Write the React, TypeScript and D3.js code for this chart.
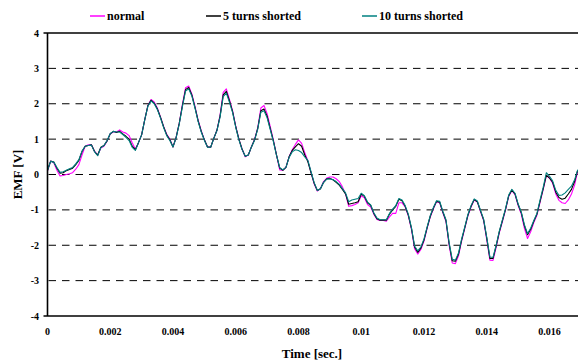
import React from "react";
import * as d3 from "d3";

const width = 578;
const height = 362;
const margin = { top: 33, left: 47.5, bottom: 316 };

// sample step of the recorded EMF traces (seconds)
const tStep = 0.0001;

const xTicks = [0, 0.002, 0.004, 0.006, 0.008, 0.01, 0.012, 0.014, 0.016];
const yTicks = [4, 3, 2, 1, 0, -1, -2, -3, -4];
const gridValues = [3, 2, 1, 0, -1, -2, -3];

const seriesNames = ["normal", "5 turns shorted", "10 turns shorted"];
const seriesColors = ["#ff00ff", "#000000", "#008080"];

const shorted5 = [
  0.12, 0.38, 0.35, 0.18, 0.04, 0.05, 0.11, 0.14, 0.18, 0.28,
  0.4, 0.65, 0.8, 0.82, 0.84, 0.65, 0.55, 0.77, 0.82, 0.95,
  1.15, 1.22, 1.19, 1.22, 1.15, 1.08, 1.0, 0.8, 0.7, 0.9,
  1.12, 1.55, 1.95, 2.1, 2.02, 1.86, 1.62, 1.35, 1.12, 0.98,
  0.78, 1.05, 1.45, 1.95, 2.4, 2.46, 2.25, 1.9, 1.52, 1.22,
  0.98, 0.78, 0.77, 1.02, 1.25, 1.65, 2.25, 2.35, 2.08, 1.78,
  1.35, 1.0, 0.72, 0.52, 0.55, 0.78, 0.98, 1.3, 1.8, 1.85,
  1.65, 1.3, 0.95, 0.55, 0.18, 0.12, 0.2, 0.5, 0.68, 0.78,
  0.87, 0.8, 0.55, 0.36, 0.05, -0.25, -0.45, -0.4, -0.22, -0.12,
  -0.11, -0.15, -0.22, -0.3, -0.42, -0.55, -0.84, -0.82, -0.8, -0.77,
  -0.55, -0.62, -0.8, -0.87, -1.1, -1.25, -1.29, -1.29, -1.29, -1.12,
  -1.0, -0.9, -0.7, -0.74, -0.9, -1.15, -1.52, -2.05, -2.2, -2.08,
  -1.85, -1.5, -1.18, -0.95, -0.76, -0.78, -1.06, -1.3, -1.95, -2.44,
  -2.45, -2.25, -1.85, -1.5, -1.15, -0.9, -0.71, -0.77, -1.03, -1.28,
  -1.8, -2.37, -2.37, -2.02, -1.62, -1.3, -0.98, -0.6, -0.44, -0.55,
  -0.85, -1.08, -1.45, -1.7, -1.55, -1.32, -1.12, -0.75, -0.4, -0.02,
  -0.1, -0.22, -0.5, -0.65, -0.7, -0.67, -0.55, -0.42, -0.2, 0.12,
];

const normal = [
  0.1, 0.38, 0.33, 0.12, -0.04, -0.03, 0.0, 0.02, 0.05, 0.15,
  0.28, 0.55, 0.8, 0.84, 0.84, 0.66, 0.55, 0.75, 0.8, 0.95,
  1.15, 1.2, 1.2, 1.26, 1.2, 1.17, 1.1, 0.9, 0.72, 0.9,
  1.12, 1.55, 1.95, 2.12, 2.05, 1.88, 1.63, 1.36, 1.14, 1.0,
  0.78, 1.05, 1.45, 1.98, 2.45, 2.5, 2.28, 1.93, 1.54, 1.24,
  0.98, 0.78, 0.77, 1.02, 1.25, 1.68, 2.32, 2.42, 2.12, 1.8,
  1.37, 1.0, 0.72, 0.5, 0.55, 0.78, 1.0, 1.32, 1.88, 1.95,
  1.72, 1.35, 0.97, 0.55, 0.13, 0.12, 0.2, 0.5, 0.7, 0.85,
  0.98, 0.88, 0.62, 0.38, 0.05, -0.27, -0.47, -0.4, -0.2, -0.1,
  -0.07, -0.07, -0.12, -0.2, -0.35, -0.55, -0.9, -0.88, -0.85, -0.8,
  -0.6, -0.66, -0.85, -0.92, -1.12, -1.27, -1.3, -1.3, -1.32, -1.2,
  -1.1, -1.1, -0.8, -0.8, -0.92, -1.17, -1.55, -2.1, -2.25, -2.12,
  -1.88, -1.52, -1.2, -0.97, -0.77, -0.8, -1.08, -1.33, -2.0, -2.5,
  -2.52, -2.3, -1.88, -1.52, -1.17, -0.92, -0.72, -0.78, -1.05, -1.3,
  -1.85, -2.42, -2.43, -2.06, -1.65, -1.33, -1.0, -0.62, -0.45, -0.57,
  -0.88, -1.12, -1.52, -1.81, -1.62, -1.36, -1.15, -0.78, -0.42, -0.03,
  -0.1, -0.25, -0.55, -0.73, -0.8, -0.82, -0.72, -0.55, -0.3, 0.1,
];

const shorted10 = [
  0.12, 0.37, 0.35, 0.2, 0.06, 0.08, 0.12, 0.16, 0.2, 0.3,
  0.42, 0.66, 0.8, 0.82, 0.83, 0.64, 0.53, 0.76, 0.82, 0.96,
  1.16, 1.22, 1.2, 1.2, 1.13, 1.05, 0.96, 0.77, 0.68, 0.9,
  1.12, 1.55, 1.93, 2.08, 2.0, 1.84, 1.6, 1.33, 1.1, 0.96,
  0.78, 1.04, 1.43, 1.92, 2.36, 2.42, 2.22, 1.88, 1.5, 1.2,
  0.97, 0.77, 0.77, 1.02, 1.24, 1.62, 2.2, 2.3, 2.04, 1.75,
  1.33, 0.98, 0.71, 0.52, 0.55, 0.78, 0.97, 1.28, 1.76, 1.8,
  1.6, 1.27, 0.93, 0.54, 0.2, 0.13, 0.2, 0.48, 0.64, 0.7,
  0.68, 0.62, 0.5, 0.4, 0.08, -0.23, -0.45, -0.4, -0.22, -0.13,
  -0.12, -0.15, -0.2, -0.28, -0.4, -0.52, -0.77, -0.72, -0.7, -0.68,
  -0.53, -0.6, -0.78, -0.86, -1.08, -1.23, -1.28, -1.28, -1.28, -1.1,
  -0.98, -0.88, -0.68, -0.72, -0.88, -1.12, -1.5, -2.02, -2.16, -2.05,
  -1.82, -1.48, -1.16, -0.93, -0.74, -0.76, -1.04, -1.28, -1.92, -2.4,
  -2.42, -2.22, -1.82, -1.48, -1.13, -0.88, -0.69, -0.75, -1.01, -1.26,
  -1.77, -2.33, -2.34, -2.0, -1.6, -1.28, -0.96, -0.58, -0.42, -0.53,
  -0.83, -1.06, -1.42, -1.67, -1.52, -1.3, -1.1, -0.72, -0.36, 0.05,
  -0.05, -0.18, -0.45, -0.59, -0.58, -0.52, -0.42, -0.33, -0.15, 0.14,
];

const seriesValues = [normal, shorted5, shorted10];
const times = d3.range(shorted5.length).map((i) => i * tStep);

const fontFamily = "'Liberation Serif', 'Times New Roman', serif";

export default function App() {
  const x = d3
    .scaleLinear()
    .domain([0, 0.016])
    .range([margin.left, margin.left + 502]);
  const y = d3.scaleLinear().domain([-4, 4]).range([margin.bottom, margin.top]);

  const line = d3
    .line<number>()
    .x((_, i) => x(times[i]))
    .y((d) => y(d));

  const legendPos = [90, 206, 362];

  return (
    <div style={{ position: "fixed", left: 0, top: 0 }}>
      <svg width={width} height={height} style={{ display: "block", background: "#fff" }}>
        <defs>
          <clipPath id="plot">
            <rect x={margin.left} y={margin.top - 2} width={width - margin.left} height={margin.bottom - margin.top + 4} />
          </clipPath>
        </defs>

        {/* grid */}
        {gridValues.map((v) => (
          <line
            key={v}
            x1={margin.left + 1}
            x2={width}
            y1={y(v)}
            y2={y(v)}
            stroke="#000"
            strokeWidth={1}
            strokeDasharray="7.5,6"
          />
        ))}

        {/* series */}
        <g clipPath="url(#plot)">
          {seriesValues.map((vals, k) => (
            <path
              key={k}
              d={line(vals) || ""}
              fill="none"
              stroke={seriesColors[k]}
              strokeWidth={1.1}
              strokeLinejoin="round"
            />
          ))}
        </g>

        {/* frame */}
        <line x1={margin.left} x2={margin.left} y1={margin.top} y2={margin.bottom} stroke="#000" strokeWidth={1.6} />
        <line x1={margin.left - 4} x2={width} y1={margin.top} y2={margin.top} stroke="#000" strokeWidth={1.6} />
        <line x1={margin.left - 4} x2={width} y1={margin.bottom} y2={margin.bottom} stroke="#000" strokeWidth={1.6} />

        {/* y tick labels */}
        {yTicks.map((v) => (
          <text
            key={v}
            x={39}
            y={y(v)}
            dy="0.35em"
            textAnchor="end"
            fontFamily={fontFamily}
            fontWeight="bold"
            fontSize={10}
          >
            {v}
          </text>
        ))}

        {/* x tick labels */}
        {xTicks.map((v) => (
          <text
            key={v}
            x={x(v)}
            y={331}
            dy="0.35em"
            textAnchor="middle"
            fontFamily={fontFamily}
            fontWeight="bold"
            fontSize={10}
          >
            {v}
          </text>
        ))}

        {/* axis titles */}
        <text
          x={312}
          y={353}
          dy="0.35em"
          textAnchor="middle"
          fontFamily={fontFamily}
          fontWeight="bold"
          fontSize={13}
        >
          Time [sec.]
        </text>
        <text
          transform={`translate(17, ${y(0)}) rotate(-90)`}
          dy="0.35em"
          textAnchor="middle"
          fontFamily={fontFamily}
          fontWeight="bold"
          fontSize={13}
        >
          EMF [V]
        </text>

        {/* legend */}
        {seriesNames.map((name, k) => (
          <g key={name} transform={`translate(${legendPos[k]}, 16)`}>
            <line x1={0} x2={15} y1={0} y2={0} stroke={seriesColors[k]} strokeWidth={1.5} />
            <text x={17} dy="0.35em" fontFamily={fontFamily} fontWeight="bold" fontSize={12}>
              {name}
            </text>
          </g>
        ))}
      </svg>
    </div>
  );
}
